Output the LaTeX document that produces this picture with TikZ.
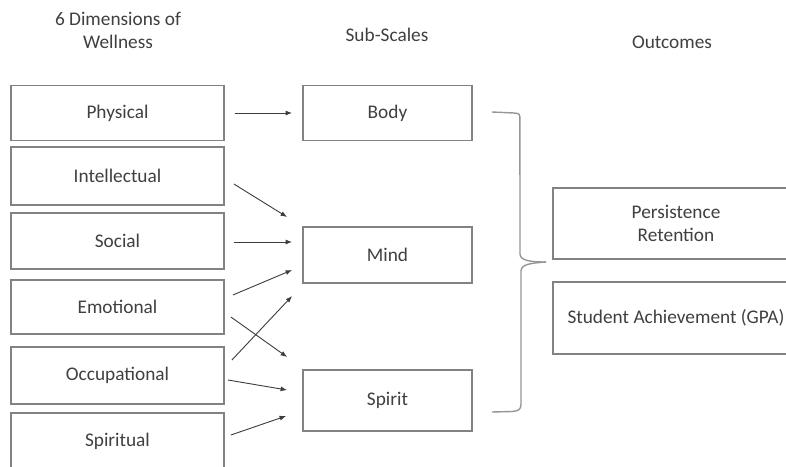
\documentclass[tikz,border=0pt]{standalone}
\usepackage{fontspec}
\setmainfont{Carlito}
\usetikzlibrary{arrows.meta}
\definecolor{txt}{RGB}{64,64,64}
\definecolor{boxline}{RGB}{130,130,130}
\definecolor{arr}{RGB}{60,60,60}
\definecolor{brc}{RGB}{150,150,150}
\begin{document}
\begin{tikzpicture}[x=1pt,y=-1pt,
  every node/.style={text=txt,font=\fontsize{19.3}{23}\selectfont,inner sep=0pt},
  dimbox/.style={draw=boxline,line width=1.8pt,minimum width=213pt,align=center},
  subbox/.style={draw=boxline,line width=1.8pt,minimum width=169pt,align=center},
  outbox/.style={draw=boxline,line width=1.8pt,minimum width=246pt,align=center},
  head/.style={align=center},
  conn/.style={draw=arr,line width=0.9pt,-{Latex[length=6.5pt,width=5pt]}},
  bracestyle/.style={draw=brc,line width=1.4pt}]
\useasboundingbox (0,0) rectangle (786,466);
\fill[white] (0,0) rectangle (786,466);

% headers
\node[head] (h1) at (118,30) {6 Dimensions of\\Wellness};
\node[head] (h2) at (387,35) {Sub-Scales};
\node[head] (h3) at (672,42) {Outcomes};

% left boxes
\node[dimbox,minimum height=55pt] (phys) at (117.5,113) {Physical};
\node[dimbox,minimum height=58pt] (intel) at (117.5,176) {Intellectual};
\node[dimbox,minimum height=56pt] (soc) at (117.5,241) {Social};
\node[dimbox,minimum height=54pt] (emo) at (117.5,307) {Emotional};
\node[dimbox,minimum height=57pt] (occ) at (117.5,375.5) {Occupational};
\node[dimbox,minimum height=57pt] (spir) at (117.5,441.5) {Spiritual};

% middle boxes
\node[subbox,minimum height=55pt] (body) at (387.5,113) {Body};
\node[subbox,minimum height=56pt] (mind) at (387.5,255) {Mind};
\node[subbox,minimum height=61pt] (spirit) at (387.5,400.5) {Spirit};

% outcome boxes
\node[outbox,minimum height=71pt] (pers) at (676,223.5) {Persistence\\Retention};
\node[outbox,minimum height=72pt] (gpa) at (676,318) {Student Achievement (GPA)};

% arrows
\draw[conn] ([xshift=10pt]phys.east) -- ([xshift=-10pt]body.west);
\draw[conn] ([xshift=9pt,yshift=-8pt]intel.east) -- ([xshift=-15pt,yshift=38pt]mind.west);
\draw[conn] ([xshift=9pt,yshift=-1pt]soc.east) -- ([xshift=-10pt,yshift=13pt]mind.west);
\draw[conn] ([xshift=8pt,yshift=12pt]emo.east) -- ([xshift=-10pt,yshift=-15pt]mind.west);
\draw[conn] ([xshift=7pt,yshift=15.5pt]occ.east) -- ([xshift=-10pt,yshift=-41pt]mind.west);
\draw[conn] ([xshift=6pt,yshift=-10pt]emo.east) -- ([xshift=-15pt,yshift=43.5pt]spirit.west);
\draw[conn] ([xshift=3pt,yshift=-4.5pt]occ.east) -- ([xshift=-15pt,yshift=10.5pt]spirit.west);
\draw[conn] ([xshift=6pt,yshift=6.5pt]spir.east) -- ([xshift=-16pt,yshift=-15.5pt]spirit.west);

% brace
\coordinate (btop) at ([xshift=19pt,yshift=1pt]body.east);
\coordinate (btip) at ([xshift=-6pt,yshift=56pt]gpa.west);
\coordinate (bbot) at ([xshift=19pt,yshift=-11.5pt]spirit.east);
\draw[bracestyle] (btop) -- ++(22,1) .. controls +(6,0.5) and +(0,-6) .. ++(6,7)
  -- (520,254) .. controls (520,261) and (532,262) .. (btip);
\draw[bracestyle] (btip) .. controls (532,263) and (521,264) .. (521,271)
  -- (521,404) .. controls (521,410) and (518,411) .. (512,411.5) -- (bbot);
\end{tikzpicture}
\end{document}
